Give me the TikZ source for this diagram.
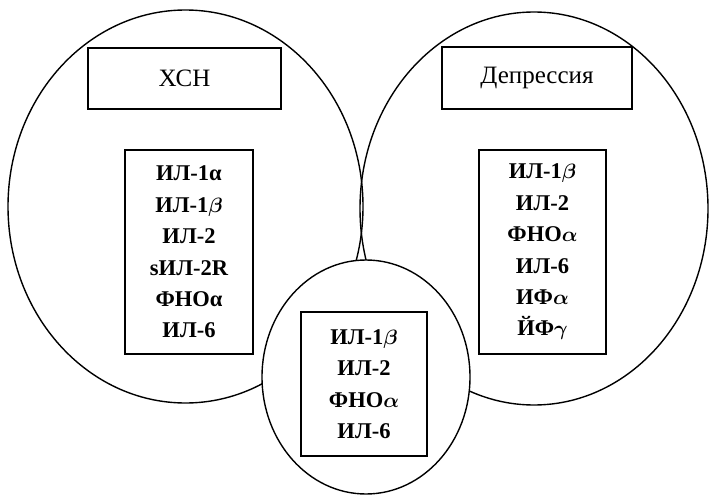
\documentclass[tikz,border=0pt]{standalone}
\usepackage{fontspec}
\setmainfont{Liberation Serif}
\usetikzlibrary{positioning,shapes.geometric}

\begin{document}
\begin{tikzpicture}[x=1pt,y=-1pt,line width=1.4pt,on grid,
  oval/.style ={ellipse,draw,black,inner sep=0pt},
  head/.style ={rectangle,draw,black,inner sep=0pt,font=\fontsize{25}{29}\selectfont},
  list/.style ={rectangle,draw,black,inner sep=0pt,align=center,font=\fontsize{22.5}{31.4}\selectfont\bfseries\boldmath}]
\useasboundingbox (0,0) rectangle (710,495);
% the three sets
\node[oval,minimum width=355pt,minimum height=393pt] (hf) at (185.5,206.5) {};
\node[oval,minimum width=348pt,minimum height=393pt] (dep) at (534,208.5) {};
\node[oval,fill=white,minimum width=208pt,minimum height=234pt] (both) at (366,377) {};

% titles
\node[head,minimum width=193pt,minimum height=61pt] (hfname) at (184.5,78.5) {ХСН};
\node[head,minimum width=190pt,minimum height=62pt] (depname) at (537,78) {Депрессия};

% cytokines
\node[list,minimum width=128pt,minimum height=204pt] (hflist) [below=173.5pt of hfname, xshift=4.5pt]
  {ИЛ-1α\\ИЛ-1$\beta$\\ИЛ-2\\sИЛ-2R\\ФНОα\\ИЛ-6};
\node[list,minimum width=127pt,minimum height=204pt] (deplist) [below=174pt of depname, xshift=5.5pt]
  {ИЛ-1$\beta$\\ИЛ-2\\ФНО$\alpha$\\ИЛ-6\\ИФ$\alpha$\\ЙФ$\gamma$};
\node[list,minimum width=126pt,minimum height=144pt] (bothlist) [below=7pt of both, xshift=-2pt]
  {ИЛ-1$\beta$\\ИЛ-2\\ФНО$\alpha$\\ИЛ-6};
\end{tikzpicture}
\end{document}
